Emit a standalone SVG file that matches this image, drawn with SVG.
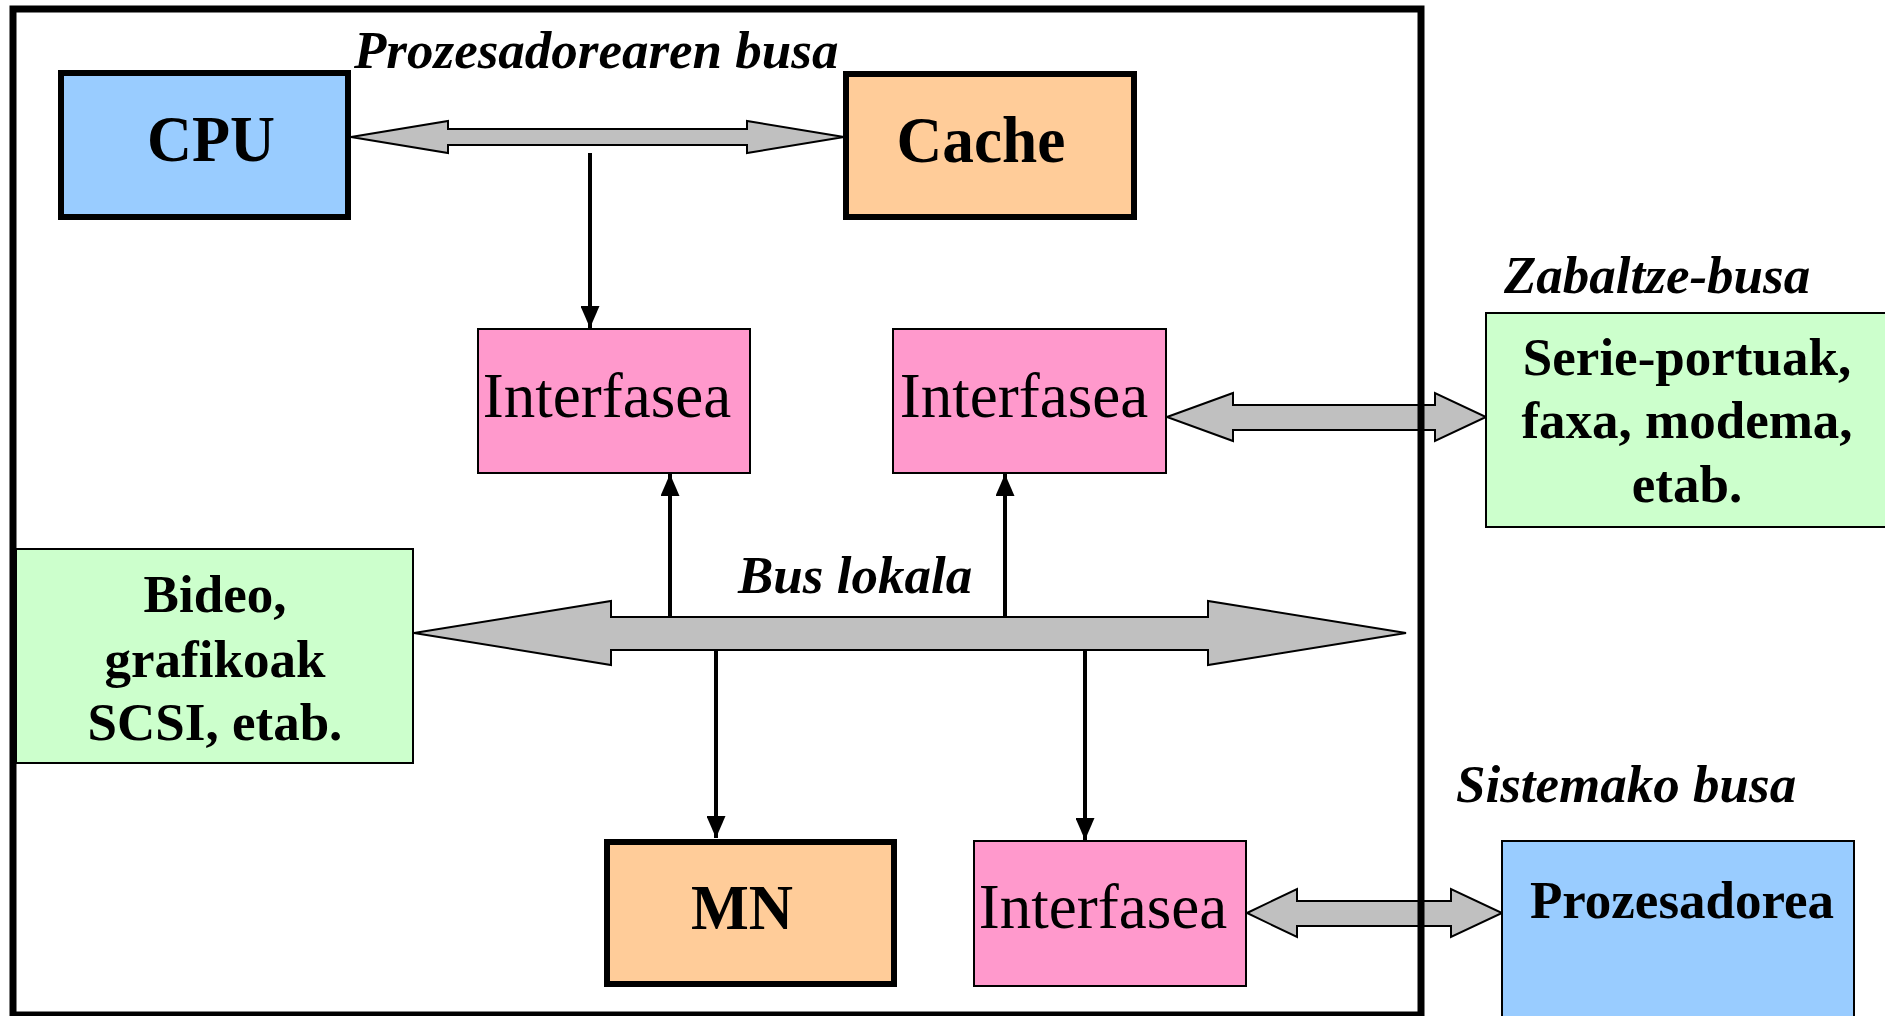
<svg xmlns="http://www.w3.org/2000/svg" width="1885" height="1016" viewBox="0 0 1885 1016">
<style>
  .thick { stroke: #000; stroke-width: 6; }
  .thin { stroke: #000; stroke-width: 2; }
  .blue { fill: #99CCFF; }
  .orange { fill: #FFCC99; }
  .pink { fill: #FF99CC; }
  .green { fill: #CCFFCC; }
  .bus { fill: #C0C0C0; stroke: #000; stroke-width: 2; stroke-linejoin: miter; }
  .link { stroke: #000; stroke-width: 4; fill: none; }
  .big { font-family: "Liberation Serif", "Times New Roman", serif; font-weight: bold; font-size: 66px; fill: #000; text-anchor: middle; }
  .iface { font-family: "Liberation Serif", "Times New Roman", serif; font-size: 63px; fill: #000; text-anchor: middle; }
  .med { font-family: "Liberation Serif", "Times New Roman", serif; font-weight: bold; font-size: 53px; fill: #000; text-anchor: middle; }
  .buslabel { font-family: "Liberation Serif", "Times New Roman", serif; font-weight: bold; font-style: italic; font-size: 53px; fill: #000; }
</style>
<defs>
  <marker id="head" markerUnits="userSpaceOnUse" markerWidth="22" markerHeight="19" viewBox="0 0 22 19" refX="22" refY="9.5" orient="auto">
    <path d="M0,0 L22,9.5 L0,19 z" fill="#000"/>
  </marker>
</defs>
<rect width="1885" height="1016" fill="#fff"/>

<g id="connectors">
  <polygon class="bus" points="351,137 448,121 448,129 747,129 747,121 844,137 747,153 747,145 448,145 448,153"/>
  <polygon class="bus" points="414,633 611,601 611,617 1208,617 1208,601 1406,633 1208,665 1208,650 611,650 611,665"/>
  <polygon class="bus" points="1167,417 1233,393 1233,405 1435,405 1435,393 1486,417 1435,441 1435,430 1233,430 1233,441"/>
  <polygon class="bus" points="1247,913 1297,889 1297,901 1451,901 1451,889 1502,913 1451,937 1451,926 1297,926 1297,937"/>
  <line class="link" x1="590" y1="153" x2="590" y2="328" marker-end="url(#head)"/>
  <line class="link" x1="670" y1="617" x2="670" y2="474" marker-end="url(#head)"/>
  <line class="link" x1="1005" y1="617" x2="1005" y2="474" marker-end="url(#head)"/>
  <line class="link" x1="716" y1="650" x2="716" y2="838" marker-end="url(#head)"/>
  <line class="link" x1="1085" y1="650" x2="1085" y2="840" marker-end="url(#head)"/>
</g>

<g id="frame">
  <rect x="13" y="9" width="1408" height="1006" fill="none" stroke="#000" stroke-width="7"/>
</g>

<g id="labels">
  <text class="buslabel" x="354" y="68">Prozesadorearen busa</text>
  <text class="buslabel" x="738" y="593">Bus lokala</text>
  <text class="buslabel" x="1504" y="293">Zabaltze-busa</text>
  <text class="buslabel" x="1456" y="802">Sistemako busa</text>
</g>

<g id="cpu">
  <rect class="blue thick" x="61" y="73" width="287" height="144"/>
  <text class="big" x="211" y="161" textLength="128" lengthAdjust="spacingAndGlyphs">CPU</text>
</g>
<g id="cache">
  <rect class="orange thick" x="846" y="74" width="288" height="143"/>
  <text class="big" x="981" y="162" textLength="169" lengthAdjust="spacingAndGlyphs">Cache</text>
</g>
<g id="interfasea1">
  <rect class="pink thin" x="478" y="329" width="272" height="144"/>
  <text class="iface" x="607" y="417">Interfasea</text>
</g>
<g id="interfasea2">
  <rect class="pink thin" x="893" y="329" width="273" height="144"/>
  <text class="iface" x="1024" y="417">Interfasea</text>
</g>
<g id="serie">
  <rect class="green thin" x="1486" y="313" width="404" height="214"/>
  <text class="med" x="1687" y="375">Serie-portuak,</text>
  <text class="med" x="1687" y="438">faxa, modema,</text>
  <text class="med" x="1687" y="502">etab.</text>
</g>
<g id="bideo">
  <rect class="green thin" x="16" y="549" width="397" height="214"/>
  <text class="med" x="215" y="612">Bideo,</text>
  <text class="med" x="215" y="677">grafikoak</text>
  <text class="med" x="215" y="740">SCSI, etab.</text>
</g>
<g id="mn">
  <rect class="orange thick" x="607" y="842" width="287" height="142"/>
  <text class="big" x="742" y="929" style="font-size:64px" textLength="102" lengthAdjust="spacingAndGlyphs">MN</text>
</g>
<g id="interfasea3">
  <rect class="pink thin" x="974" y="841" width="272" height="145"/>
  <text class="iface" x="1103" y="928">Interfasea</text>
</g>
<g id="prozesadorea">
  <rect class="blue thin" x="1502" y="841" width="352" height="185"/>
  <text class="med" x="1682" y="918">Prozesadorea</text>
</g>
</svg>
